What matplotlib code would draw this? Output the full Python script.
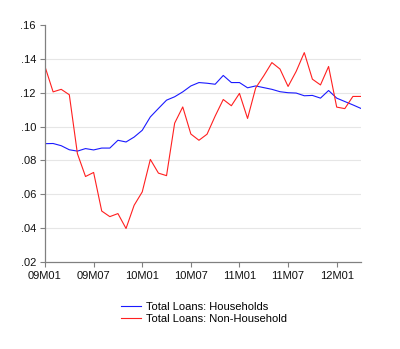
import matplotlib
matplotlib.use("Agg")
import matplotlib.pyplot as plt
import numpy as np

plt.rcParams['font.family'] = ['Liberation Sans', 'DejaVu Sans']

# Monthly series, 2009M01 .. 2012M04
households = [0.0899, 0.0900, 0.0887, 0.0863, 0.0855, 0.0870, 0.0862, 0.0873,
              0.0873, 0.0919, 0.0909, 0.0938, 0.0978, 0.1057, 0.1107, 0.1156,
              0.1176, 0.1205, 0.1240, 0.1260, 0.1256, 0.1250, 0.1302, 0.1260,
              0.1260, 0.1229, 0.1240, 0.1230, 0.1220, 0.1206, 0.1200, 0.1198,
              0.1182, 0.1184, 0.1168, 0.1213, 0.1168, 0.1148, 0.1128, 0.1107]
non_household = [0.1354, 0.1205, 0.1220, 0.1188, 0.0840, 0.0705, 0.0729, 0.0501,
                 0.0468, 0.0486, 0.0398, 0.0535, 0.0614, 0.0806, 0.0725, 0.0710,
                 0.1020, 0.1116, 0.0956, 0.0919, 0.0955, 0.1062, 0.1160, 0.1123,
                 0.1196, 0.1048, 0.1228, 0.1300, 0.1378, 0.1340, 0.1237, 0.1326,
                 0.1437, 0.1280, 0.1246, 0.1355, 0.1115, 0.1106, 0.1178, 0.1178]
tick_labels = ["09M01", "09M07", "10M01", "10M07", "11M01", "11M07", "12M01"]
y_ticks = [0.02, 0.04, 0.06, 0.08, 0.10, 0.12, 0.14, 0.16]

x = np.arange(len(households))

fig = plt.figure(figsize=(4.0, 3.49), dpi=100)
ax = fig.add_axes([45 / 400, 1 - 262 / 349, 316 / 400, 237 / 349])

ax.plot(x, households, color='#1a1aff', lw=0.8, label='Total Loans: Households')
ax.plot(x, non_household, color='#ff2020', lw=0.8, label='Total Loans: Non-Household')

ax.set_xlim(0, len(x) - 1)
ax.set_ylim(0.02, 0.16)
ax.set_xticks(np.arange(0, 37, 6))
ax.set_xticklabels(tick_labels)
ax.set_yticks(y_ticks)
ax.set_yticklabels([f"{v:.2f}"[1:] for v in y_ticks])

for y in y_ticks[1:-1]:
    ax.axhline(y, color='#e6e6e6', lw=0.8, zorder=0)

for side in ('top', 'right'):
    ax.spines[side].set_visible(False)
for side in ('left', 'bottom'):
    ax.spines[side].set_color('#808080')
    ax.spines[side].set_linewidth(0.9)

ax.tick_params(axis='both', direction='out', length=3.5, width=0.8,
               color='#808080', labelsize=8, labelcolor='#111111', pad=3)

leg = fig.legend(loc='upper center', bbox_to_anchor=(0.51, 1 - 292 / 349),
                 frameon=False, fontsize=8, handlelength=1.8,
                 handletextpad=0.4, labelspacing=0.15)

fig.savefig('out.png', dpi=100)
